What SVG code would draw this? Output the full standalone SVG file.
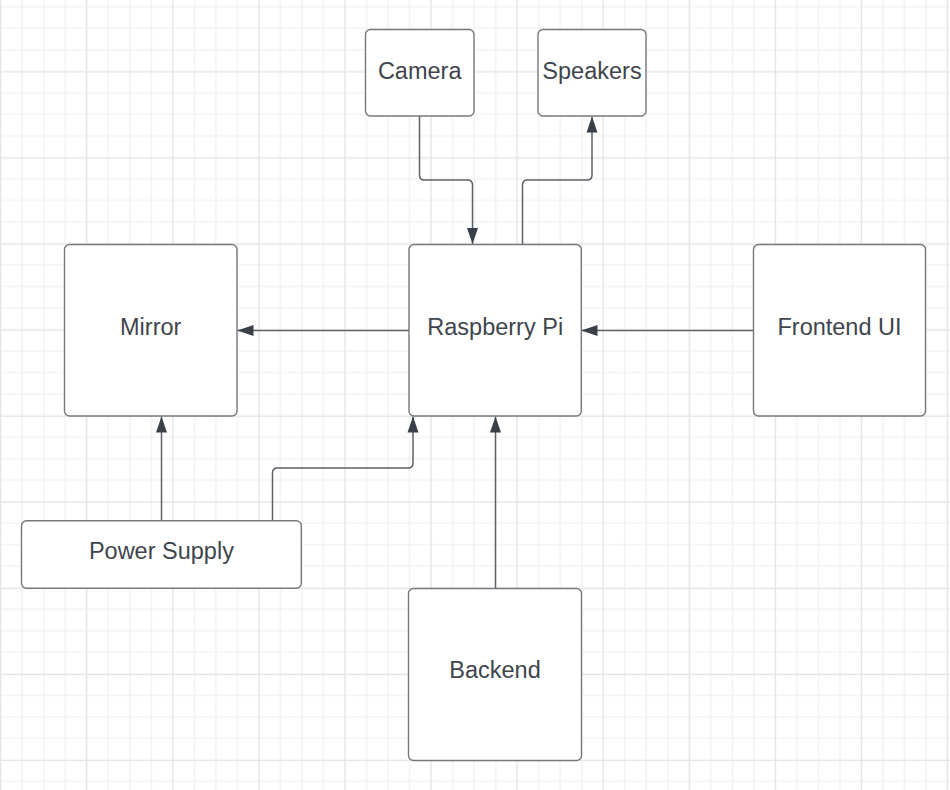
<svg xmlns="http://www.w3.org/2000/svg" width="950" height="790" viewBox="0 0 950 790">
<style>
.box{fill:#ffffff;stroke:#75787e;stroke-width:1.4}
.lbl{font-family:"Liberation Sans",Arial,sans-serif;font-size:23.5px;fill:#40454d;text-anchor:middle}
.edge{fill:none;stroke:#5d6168;stroke-width:1.5}
</style>
<defs>
<pattern id="minor" x="-10.06" y="-4.06" width="21.52" height="21.52" patternUnits="userSpaceOnUse">
<path d="M10.76 0V21.52M0 10.76H21.52" stroke="#eeeeee" stroke-width="1.1" fill="none"/>
</pattern>
<pattern id="major" x="43.66" y="28.96" width="86.08" height="86.08" patternUnits="userSpaceOnUse">
<path d="M43.04 0V86.08M0 43.04H86.08" stroke="#e4e4e4" stroke-width="1" fill="none"/>
</pattern>
<marker id="arr" markerUnits="userSpaceOnUse" markerWidth="16" markerHeight="12" viewBox="0 0 16 12" refX="16" refY="6" orient="auto">
<path d="M0 0.5L16 6L0 11.5Z" fill="#3a4049"/>
</marker>
</defs>
<rect width="950" height="790" fill="#ffffff"/>
<rect width="950" height="790" fill="url(#minor)"/>
<rect width="950" height="790" fill="url(#major)"/>
<g id="connectors">
<path class="edge" d="M419.5 116V175Q419.5 180 424.5 180H467.5Q472.5 180 472.5 185V244" marker-end="url(#arr)"/>
<path class="edge" d="M522.5 244V185Q522.5 180 527.5 180H587Q592 180 592 175V116.5" marker-end="url(#arr)"/>
<path class="edge" d="M409 330.5H237.5" marker-end="url(#arr)"/>
<path class="edge" d="M753 330.5H581.5" marker-end="url(#arr)"/>
<path class="edge" d="M161.5 520.5V416.5" marker-end="url(#arr)"/>
<path class="edge" d="M272.5 520.5V473Q272.5 468 277.5 468H408Q413 468 413 463V416.5" marker-end="url(#arr)"/>
<path class="edge" d="M495.5 588.5V416.5" marker-end="url(#arr)"/>
</g>
<g id="camera"><rect class="box" x="365.5" y="29.5" width="108.5" height="86.5" rx="5"/><text class="lbl" x="419.7" y="79">Camera</text></g>
<g id="speakers"><rect class="box" x="538" y="29.5" width="108" height="86.5" rx="5"/><text class="lbl" x="592" y="78.5">Speakers</text></g>
<g id="mirror"><rect class="box" x="64.5" y="244.5" width="172.5" height="171.5" rx="5"/><text class="lbl" x="150.7" y="335">Mirror</text></g>
<g id="raspberry-pi"><rect class="box" x="409" y="244.5" width="172.3" height="171.5" rx="5"/><text class="lbl" x="495.2" y="335">Raspberry Pi</text></g>
<g id="frontend-ui"><rect class="box" x="753.5" y="244.5" width="172" height="171.5" rx="5"/><text class="lbl" x="839.5" y="335">Frontend UI</text></g>
<g id="power-supply"><rect class="box" x="21.5" y="520.7" width="279.8" height="67.6" rx="5"/><text class="lbl" x="161.4" y="559.3">Power Supply</text></g>
<g id="backend"><rect class="box" x="408.5" y="588.5" width="173" height="172" rx="5"/><text class="lbl" x="495" y="678.3">Backend</text></g>
</svg>
